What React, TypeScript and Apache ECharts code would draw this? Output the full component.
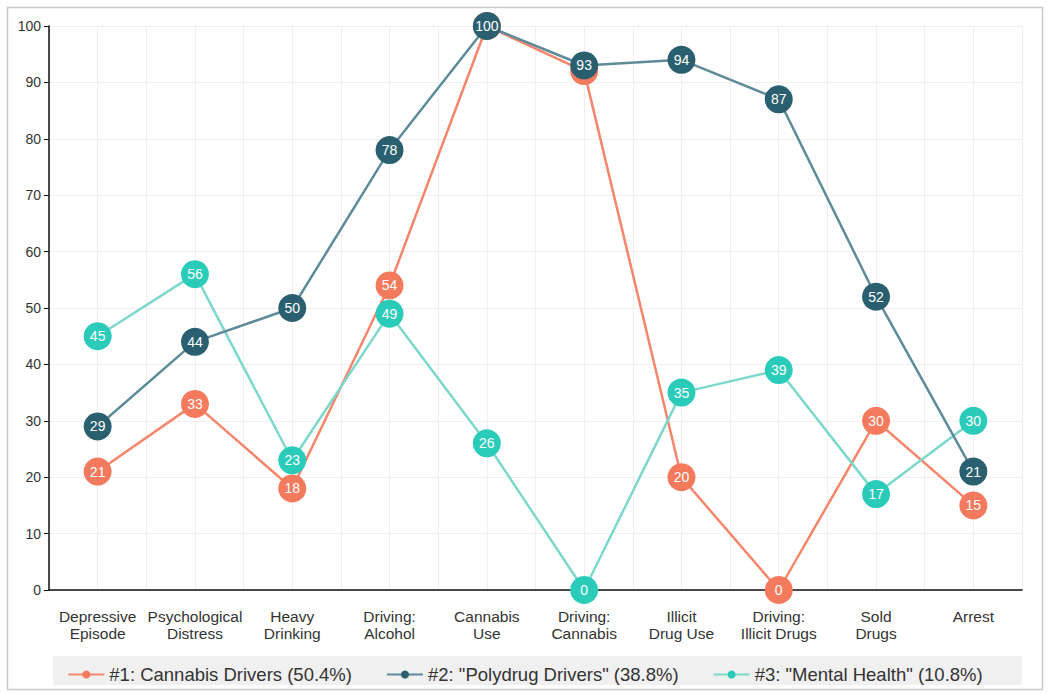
import React, { useEffect, useRef } from "react";
import * as echarts from "echarts";

const categories = [
  "Depressive\nEpisode",
  "Psychological\nDistress",
  "Heavy\nDrinking",
  "Driving:\nAlcohol",
  "Cannabis\nUse",
  "Driving:\nCannabis",
  "Illicit\nDrug Use",
  "Driving:\nIllicit Drugs",
  "Sold\nDrugs",
  "Arrest",
];

const seriesNames = [
  "#1: Cannabis Drivers (50.4%)",
  '#2: "Polydrug Drivers" (38.8%)',
  '#3: "Mental Health" (10.8%)',
];

const cannabisDrivers = [21, 33, 18, 54, 100, 92, 20, 0, 30, 15];
const polydrugDrivers = [29, 44, 50, 78, 100, 93, 94, 87, 52, 21];
const mentalHealth = [45, 56, 23, 49, 26, 0, 35, 39, 17, 30];

const markerColors = ["#F37A5C", "#2A5F70", "#2BCBBA"];
const lineColors = ["#F4866B", "#5F8B99", "#7DD8CC"];

const FONT = "'Liberation Sans', Arial, sans-serif";

export default function App() {
  const ref = useRef<HTMLDivElement>(null);
  useEffect(() => {
    if (!ref.current) return;
    const chart = echarts.init(ref.current, null, { renderer: "svg" });
    const data = [cannabisDrivers, polydrugDrivers, mentalHealth];
    const gridCats = Array.from({ length: categories.length * 2 }, () => "");
    chart.setOption({
      animation: false,
      textStyle: { fontFamily: FONT },
      graphic: [
        {
          type: "rect",
          shape: { x: 7.5, y: 7.5, width: 1035, height: 682 },
          style: { fill: "#fff", stroke: "#c9c9c9", lineWidth: 1.5 },
          z: -10,
        },
        {
          type: "rect",
          shape: { x: 53, y: 656, width: 969, height: 29 },
          style: { fill: "#f0f0f0" },
          z: -5,
        },
      ],
      grid: { left: 49, right: 28, top: 26, bottom: 105 },
      legend: {
        top: 660,
        left: "center",
        itemWidth: 36,
        itemHeight: 10,
        itemGap: 34,
        data: seriesNames,
        textStyle: { fontSize: 18.5, color: "#333", fontFamily: FONT },
      },
      xAxis: [
        {
          type: "category",
          data: categories,
          boundaryGap: true,
          axisLine: { lineStyle: { color: "#111", width: 1.5 } },
          axisTick: { alignWithLabel: true, length: 5, lineStyle: { color: "#111" } },
          axisLabel: {
            color: "#333",
            fontSize: 15.5,
            lineHeight: 17,
            margin: 18,
            interval: 0,
            fontFamily: FONT,
          },
          splitLine: { show: false },
        },
        {
          type: "category",
          data: gridCats,
          boundaryGap: true,
          position: "bottom",
          axisLine: { show: false },
          axisTick: { show: false },
          axisLabel: { show: false },
          splitLine: { show: true, interval: 0, lineStyle: { color: "#efefef", width: 1 } },
        },
      ],
      yAxis: {
        type: "value",
        min: 0,
        max: 100,
        interval: 10,
        axisLine: { show: true, lineStyle: { color: "#111", width: 1.5 } },
        axisTick: { show: true, length: 5, lineStyle: { color: "#111" } },
        axisLabel: { color: "#333", fontSize: 14, margin: 8, fontFamily: FONT },
        splitLine: { show: true, lineStyle: { color: "#efefef", width: 1 } },
      },
      series: data.map((d, i) => ({
        name: seriesNames[i],
        type: "line",
        xAxisIndex: 0,
        data: d,
        symbol: "circle",
        symbolSize: 28,
        itemStyle: { color: markerColors[i] },
        lineStyle: { color: lineColors[i], width: 2.5 },
        label: {
          show: true,
          position: "inside",
          color: "#fff",
          fontSize: 14,
          fontFamily: FONT,
        },
        z: 3 + (i === 1 ? 1 : 0),
      })),
    });
    return () => chart.dispose();
  }, []);
  return (
    <div
      ref={ref}
      style={{ position: "absolute", left: 0, top: 0, width: 1050, height: 695 }}
    />
  );
}
